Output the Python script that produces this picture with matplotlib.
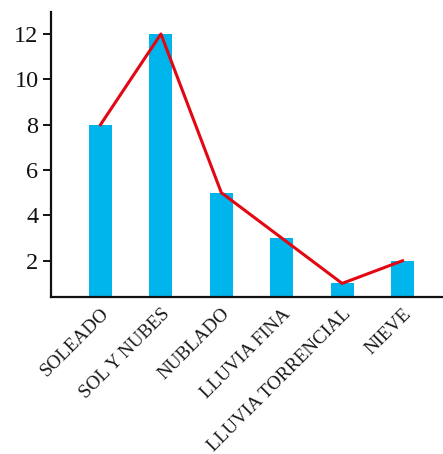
import matplotlib
matplotlib.use("Agg")
import matplotlib.pyplot as plt
from matplotlib.transforms import ScaledTranslation

categories = ["SOLEADO", "SOL Y NUBES", "NUBLADO", "LLUVIA FINA",
              "LLUVIA TORRENCIAL", "NIEVE"]
days = [8, 12, 5, 3, 1, 2]
yticks = [2, 4, 6, 8, 10, 12]

plt.rcParams["font.family"] = ["Liberation Serif", "DejaVu Serif"]

fig = plt.figure(figsize=(4.43, 4.54), dpi=100)
ax = fig.add_axes([0.1151, 0.3458, 0.8849, 0.6278])

x = list(range(len(categories)))
ax.bar(x, days, width=0.38, color="#00b5ec", zorder=2)
ax.plot(x, days, color="#e30613", linewidth=2.2, zorder=3)

ax.set_xlim(-0.82, 5.67)
ax.set_ylim(0.4, 12.97)
ax.set_yticks(yticks)
ax.set_yticklabels([str(v) for v in yticks], fontsize=17.5, color="#1a1a1a")
ax.set_xticks(x)
ax.set_xticklabels(categories, rotation=45, ha="right", va="top",
                   rotation_mode="anchor", fontsize=13.8, color="#1a1a1a")

# nudge the slanted category labels slightly to the right
shift = ScaledTranslation(7 / 100, 0, fig.dpi_scale_trans)
for lbl in ax.get_xticklabels():
    lbl.set_transform(lbl.get_transform() + shift)

for side in ("top", "right"):
    ax.spines[side].set_visible(False)
for side in ("left", "bottom"):
    ax.spines[side].set_linewidth(1.6)
    ax.spines[side].set_color("#111111")

ax.tick_params(axis="y", length=6, width=1.4, pad=3, colors="#111111")
ax.tick_params(axis="x", length=0, pad=6)

fig.savefig("out.png", dpi=100)
